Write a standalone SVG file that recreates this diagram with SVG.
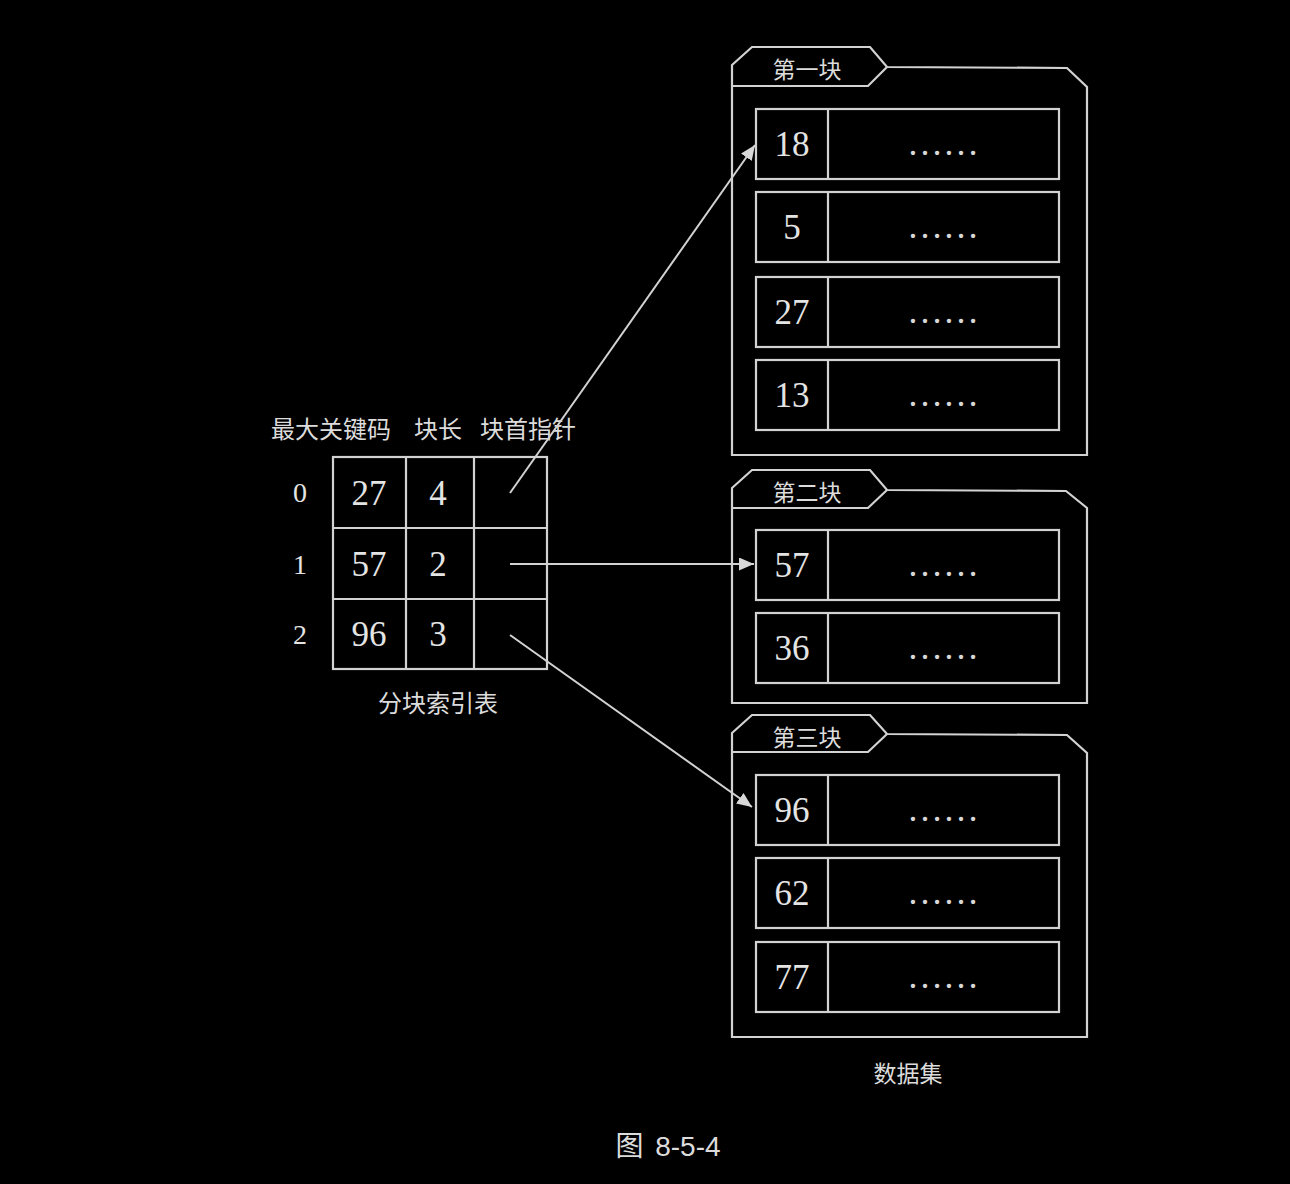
<svg xmlns="http://www.w3.org/2000/svg" width="1290" height="1184" viewBox="0 0 1290 1184">
<style>
.ln{fill:none;stroke:#d2d2d2;stroke-width:2.2;stroke-linejoin:miter}
.num{font-family:"Liberation Serif",serif;font-size:35px;fill:#e4e4e4;text-anchor:middle}
.idx{font-family:"Liberation Serif",serif;font-size:28px;fill:#e4e4e4;text-anchor:middle}
.dots{font-family:"Liberation Serif",serif;font-size:36px;fill:#d8d8d8;text-anchor:middle}
.cjk{font-family:"Liberation Serif","Noto Sans CJK SC",serif;font-size:23px;fill:#dcdcdc;text-anchor:middle}
.hdr{font-size:24px}
.arr{fill:none;stroke:#d2d2d2;stroke-width:2}
</style>
<defs>
<marker id="ah" markerUnits="userSpaceOnUse" markerWidth="16" markerHeight="14" refX="15" refY="6.5" orient="auto">
<path d="M0,0 L15,6.5 L0,13 Z" fill="#d8d8d8"/>
</marker>
</defs>
<rect width="1290" height="1184" fill="#000"/>

<g id="index-table">
<text class="cjk hdr" x="331" y="438">最大关键码</text>
<text class="cjk hdr" x="438" y="438">块长</text>
<text class="cjk hdr" x="528" y="438">块首指针</text>
<rect class="ln" x="333" y="457" width="214" height="212"/>
<path class="ln" d="M406,457 V669 M474,457 V669 M333,528 H547 M333,599 H547"/>
<text class="idx" x="300" y="502">0</text>
<text class="idx" x="300" y="574">1</text>
<text class="idx" x="300" y="644">2</text>
<text class="num" x="369" y="505">27</text>
<text class="num" x="438" y="505">4</text>
<text class="num" x="369" y="576">57</text>
<text class="num" x="438" y="576">2</text>
<text class="num" x="369" y="646">96</text>
<text class="num" x="438" y="646">3</text>
<text class="cjk hdr" x="438" y="712">分块索引表</text>
</g>

<g id="block1">
<path class="ln" d="M732,65 L752,47 L870,47 L887,67 L1067,68 L1087,87 L1087,455 L732,455 Z"/>
<path class="ln" d="M732,86 L868,86 L887,67"/>
<text class="cjk" x="807" y="78">第一块</text>
<rect class="ln" x="756" y="109" width="303" height="70"/><path class="ln" d="M828,109 V179"/>
<text class="num" x="792" y="156">18</text><text class="dots" x="943" y="155">……</text>
<rect class="ln" x="756" y="192" width="303" height="70"/><path class="ln" d="M828,192 V262"/>
<text class="num" x="792" y="239">5</text><text class="dots" x="943" y="238">……</text>
<rect class="ln" x="756" y="277" width="303" height="70"/><path class="ln" d="M828,277 V347"/>
<text class="num" x="792" y="324">27</text><text class="dots" x="943" y="323">……</text>
<rect class="ln" x="756" y="360" width="303" height="70"/><path class="ln" d="M828,360 V430"/>
<text class="num" x="792" y="407">13</text><text class="dots" x="943" y="406">……</text>
</g>

<g id="block2">
<path class="ln" d="M732,488 L752,470 L870,470 L887,490 L1066,491 L1087,508 L1087,703 L732,703 Z"/>
<path class="ln" d="M732,508 L868,508 L887,490"/>
<text class="cjk" x="807" y="501">第二块</text>
<rect class="ln" x="756" y="530" width="303" height="70"/><path class="ln" d="M828,530 V600"/>
<text class="num" x="792" y="577">57</text><text class="dots" x="943" y="576">……</text>
<rect class="ln" x="756" y="613" width="303" height="70"/><path class="ln" d="M828,613 V683"/>
<text class="num" x="792" y="660">36</text><text class="dots" x="943" y="659">……</text>
</g>

<g id="block3">
<path class="ln" d="M732,733 L752,715 L870,715 L887,734 L1067,735 L1087,753 L1087,1037 L732,1037 Z"/>
<path class="ln" d="M732,752 L868,752 L887,734"/>
<text class="cjk" x="807" y="746">第三块</text>
<rect class="ln" x="756" y="775" width="303" height="70"/><path class="ln" d="M828,775 V845"/>
<text class="num" x="792" y="822">96</text><text class="dots" x="943" y="821">……</text>
<rect class="ln" x="756" y="858" width="303" height="70"/><path class="ln" d="M828,858 V928"/>
<text class="num" x="792" y="905">62</text><text class="dots" x="943" y="904">……</text>
<rect class="ln" x="756" y="942" width="303" height="70"/><path class="ln" d="M828,942 V1012"/>
<text class="num" x="792" y="989">77</text><text class="dots" x="943" y="988">……</text>
</g>

<g id="dataset-label">
<text class="cjk" x="908" y="1082">数据集</text>
</g>

<g id="connectors">
<line class="arr" x1="510" y1="493" x2="755" y2="145" marker-end="url(#ah)"/>
<line class="arr" x1="510" y1="564" x2="754" y2="564" marker-end="url(#ah)"/>
<line class="arr" x1="510" y1="635" x2="752" y2="807" marker-end="url(#ah)"/>
</g>

<g id="caption">
<text x="668" y="1156" font-family="Liberation Sans,'Noto Sans CJK SC',sans-serif" font-size="28" fill="#dcdcdc" text-anchor="middle" word-spacing="4">图 8-5-4</text>
</g>
</svg>
